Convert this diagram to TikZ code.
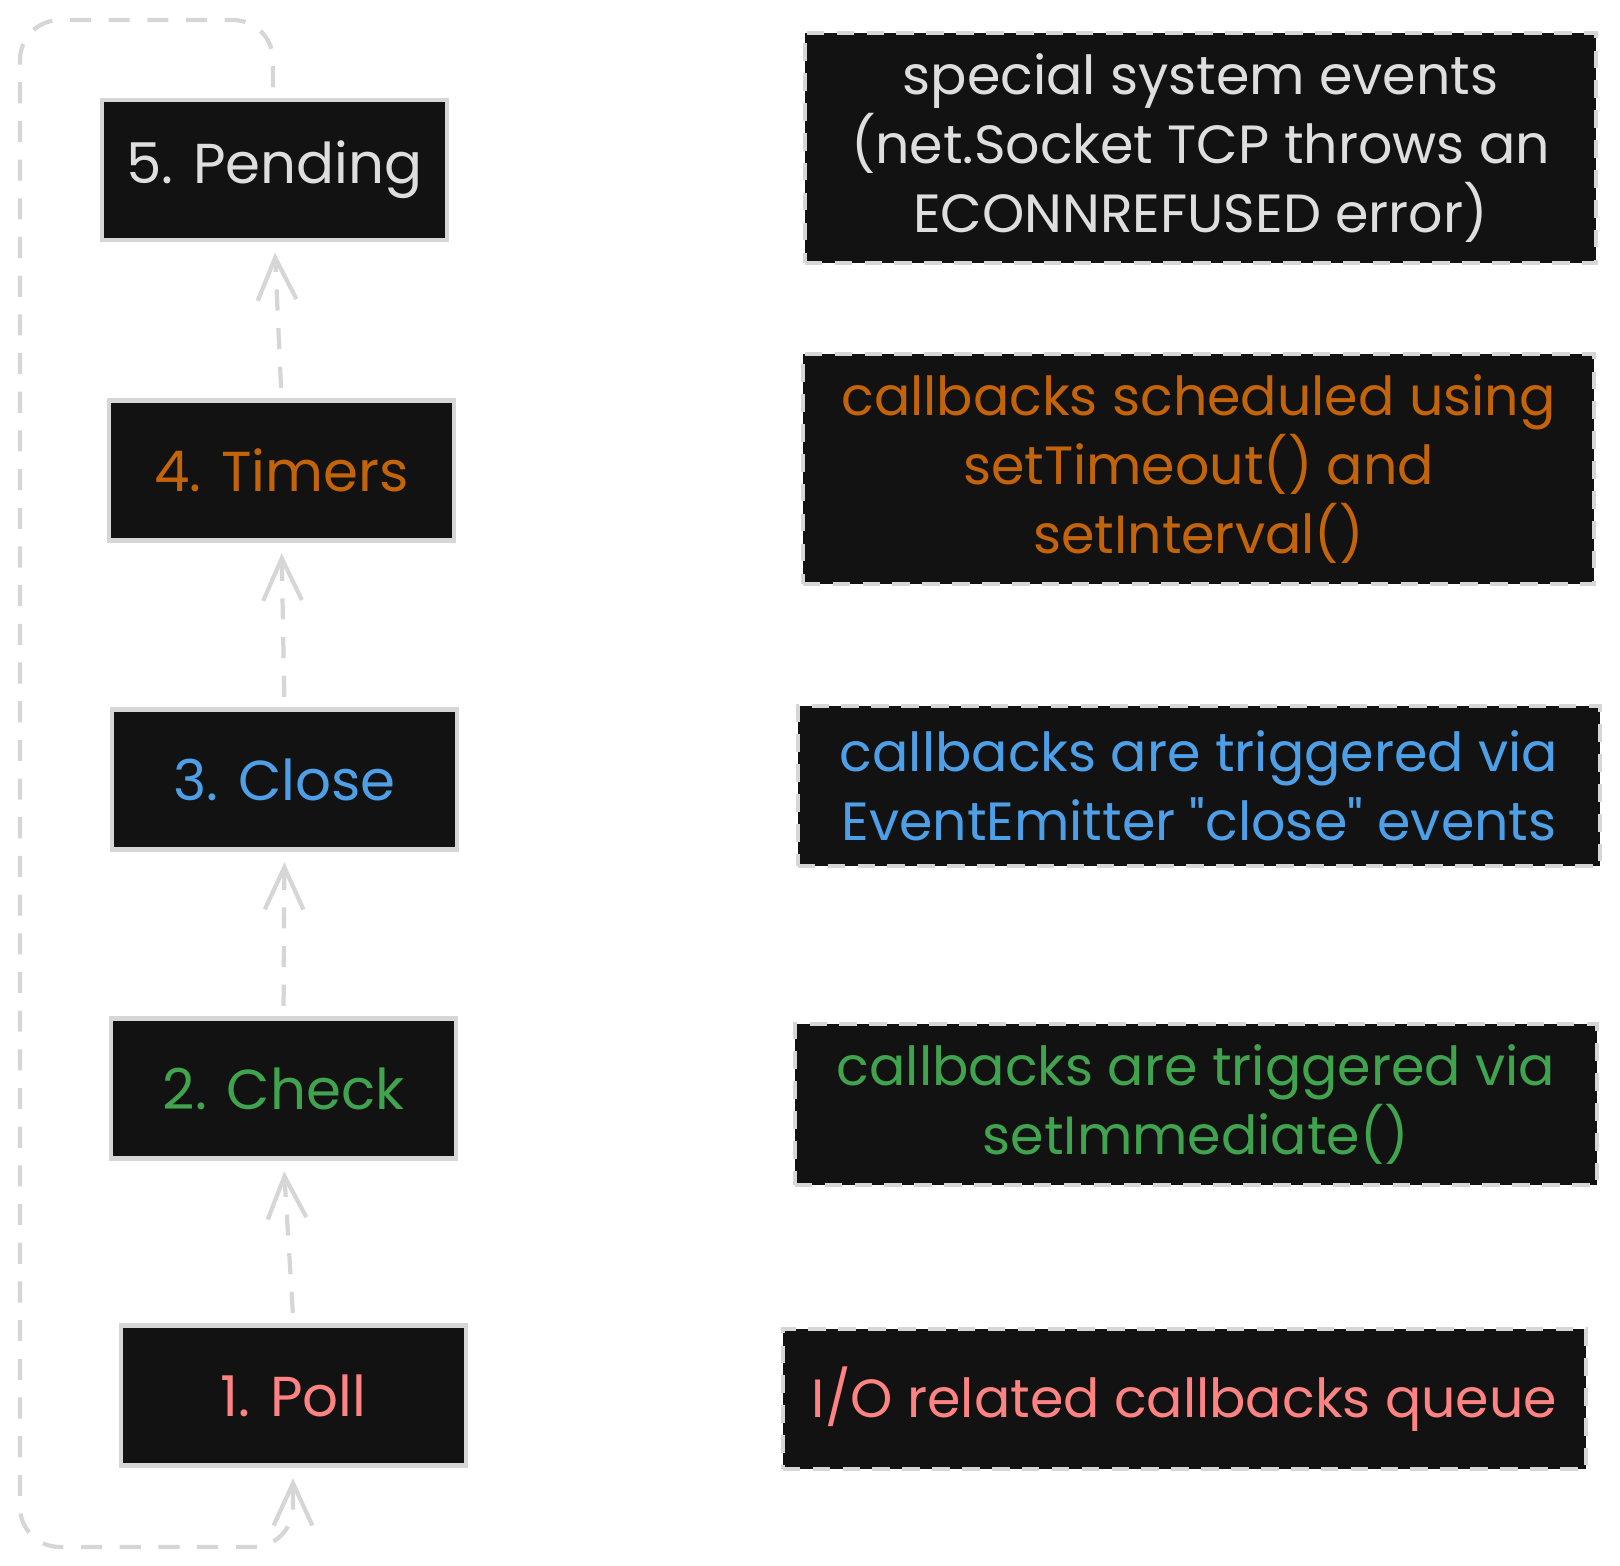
\documentclass[tikz,border=0pt]{standalone}
\usepackage{fontspec}
\setmainfont{Poppins}
\usetikzlibrary{arrows.meta}
\definecolor{boxfill}{HTML}{121212}
\definecolor{edge}{HTML}{D6D6D6}
\definecolor{txtgray}{HTML}{DEDEDE}
\definecolor{txtorange}{HTML}{C4640A}
\definecolor{txtblue}{HTML}{4DA0E8}
\definecolor{txtgreen}{HTML}{40A34E}
\definecolor{txtpink}{HTML}{FF8383}
\tikzset{
  phase/.style={draw=edge,fill=boxfill,line width=1.2pt,minimum width=3.45cm,minimum height=1.4cm,font=\fontsize{16}{19}\selectfont},
  note/.style={draw=edge,fill=boxfill,line width=1.2pt,dash pattern=on 5pt off 3.5pt,align=center,font=\fontsize{15.3}{19.6}\selectfont},
  flow/.style={draw=edge,line width=1.2pt,dash pattern=on 6pt off 5pt,shorten <=3pt,shorten >=3pt,-{Straight Barb[length=12pt,width=11pt,line width=1.2pt]}}
}
\begin{document}
\begin{tikzpicture}[x=0.01cm,y=-0.01cm]
      \useasboundingbox (0,0) rectangle (1620,1566);
      % phases of the loop
      \node[phase,text=txtgray] (pending) at (274.5,170) {5. Pending};
      \node[phase,text=txtorange] (timers) at (281.5,470.5) {4. Timers};
      \node[phase,text=txtblue] (close) at (284.5,779.5) {3. Close};
      \node[phase,text=txtgreen] (check) at (283.5,1088.5) {2. Check};
      \node[phase,text=txtpink] (poll) at (293.5,1395.5) {1. Poll};
      
      % what each phase runs
      \node[note,text=txtgray,minimum width=7.91cm,minimum height=2.3cm] (pendingnote) at (1200.5,148) {special system events\\(net.Socket TCP throws an\\ECONNREFUSED error)};
      \node[note,text=txtorange,minimum width=7.91cm,minimum height=2.3cm] (timersnote) at (1198.5,469) {callbacks scheduled using\\setTimeout() and\\setInterval()};
      \node[note,text=txtblue,minimum width=8.02cm,minimum height=1.6cm] (closenote) at (1199,786) {callbacks are triggered via\\EventEmitter \textquotedbl close\textquotedbl{} events};
      \node[note,text=txtgreen,minimum width=8.02cm,minimum height=1.61cm] (checknote) at (1196,1104.5) {callbacks are triggered via\\setImmediate()};
      \node[note,text=txtpink,minimum width=8.03cm,minimum height=1.4cm] (pollnote) at (1184.5,1399) {I/O related callbacks queue};
      
      % arrows up the stack
      \draw[flow] (poll.north) -- (check.south);
      \draw[flow] (check.north) -- (close.south);
      \draw[flow] (close.north) -- (timers.south);
      \draw[flow] (timers.north) -- (pending.south);
      
      % loop back round to poll
      \coordinate (topright) at (273,20);
      \coordinate (topleft) at (20,20);
      \coordinate (botleft) at (20,1547);
      \coordinate (botright) at (293,1547);
      \draw[flow,rounded corners=0.4cm] (pending.north -| topright) -- (topright) -- (topleft) -- (botleft) -- (botright) -- (poll.south -| botright);
    \end{tikzpicture}
\end{document}
